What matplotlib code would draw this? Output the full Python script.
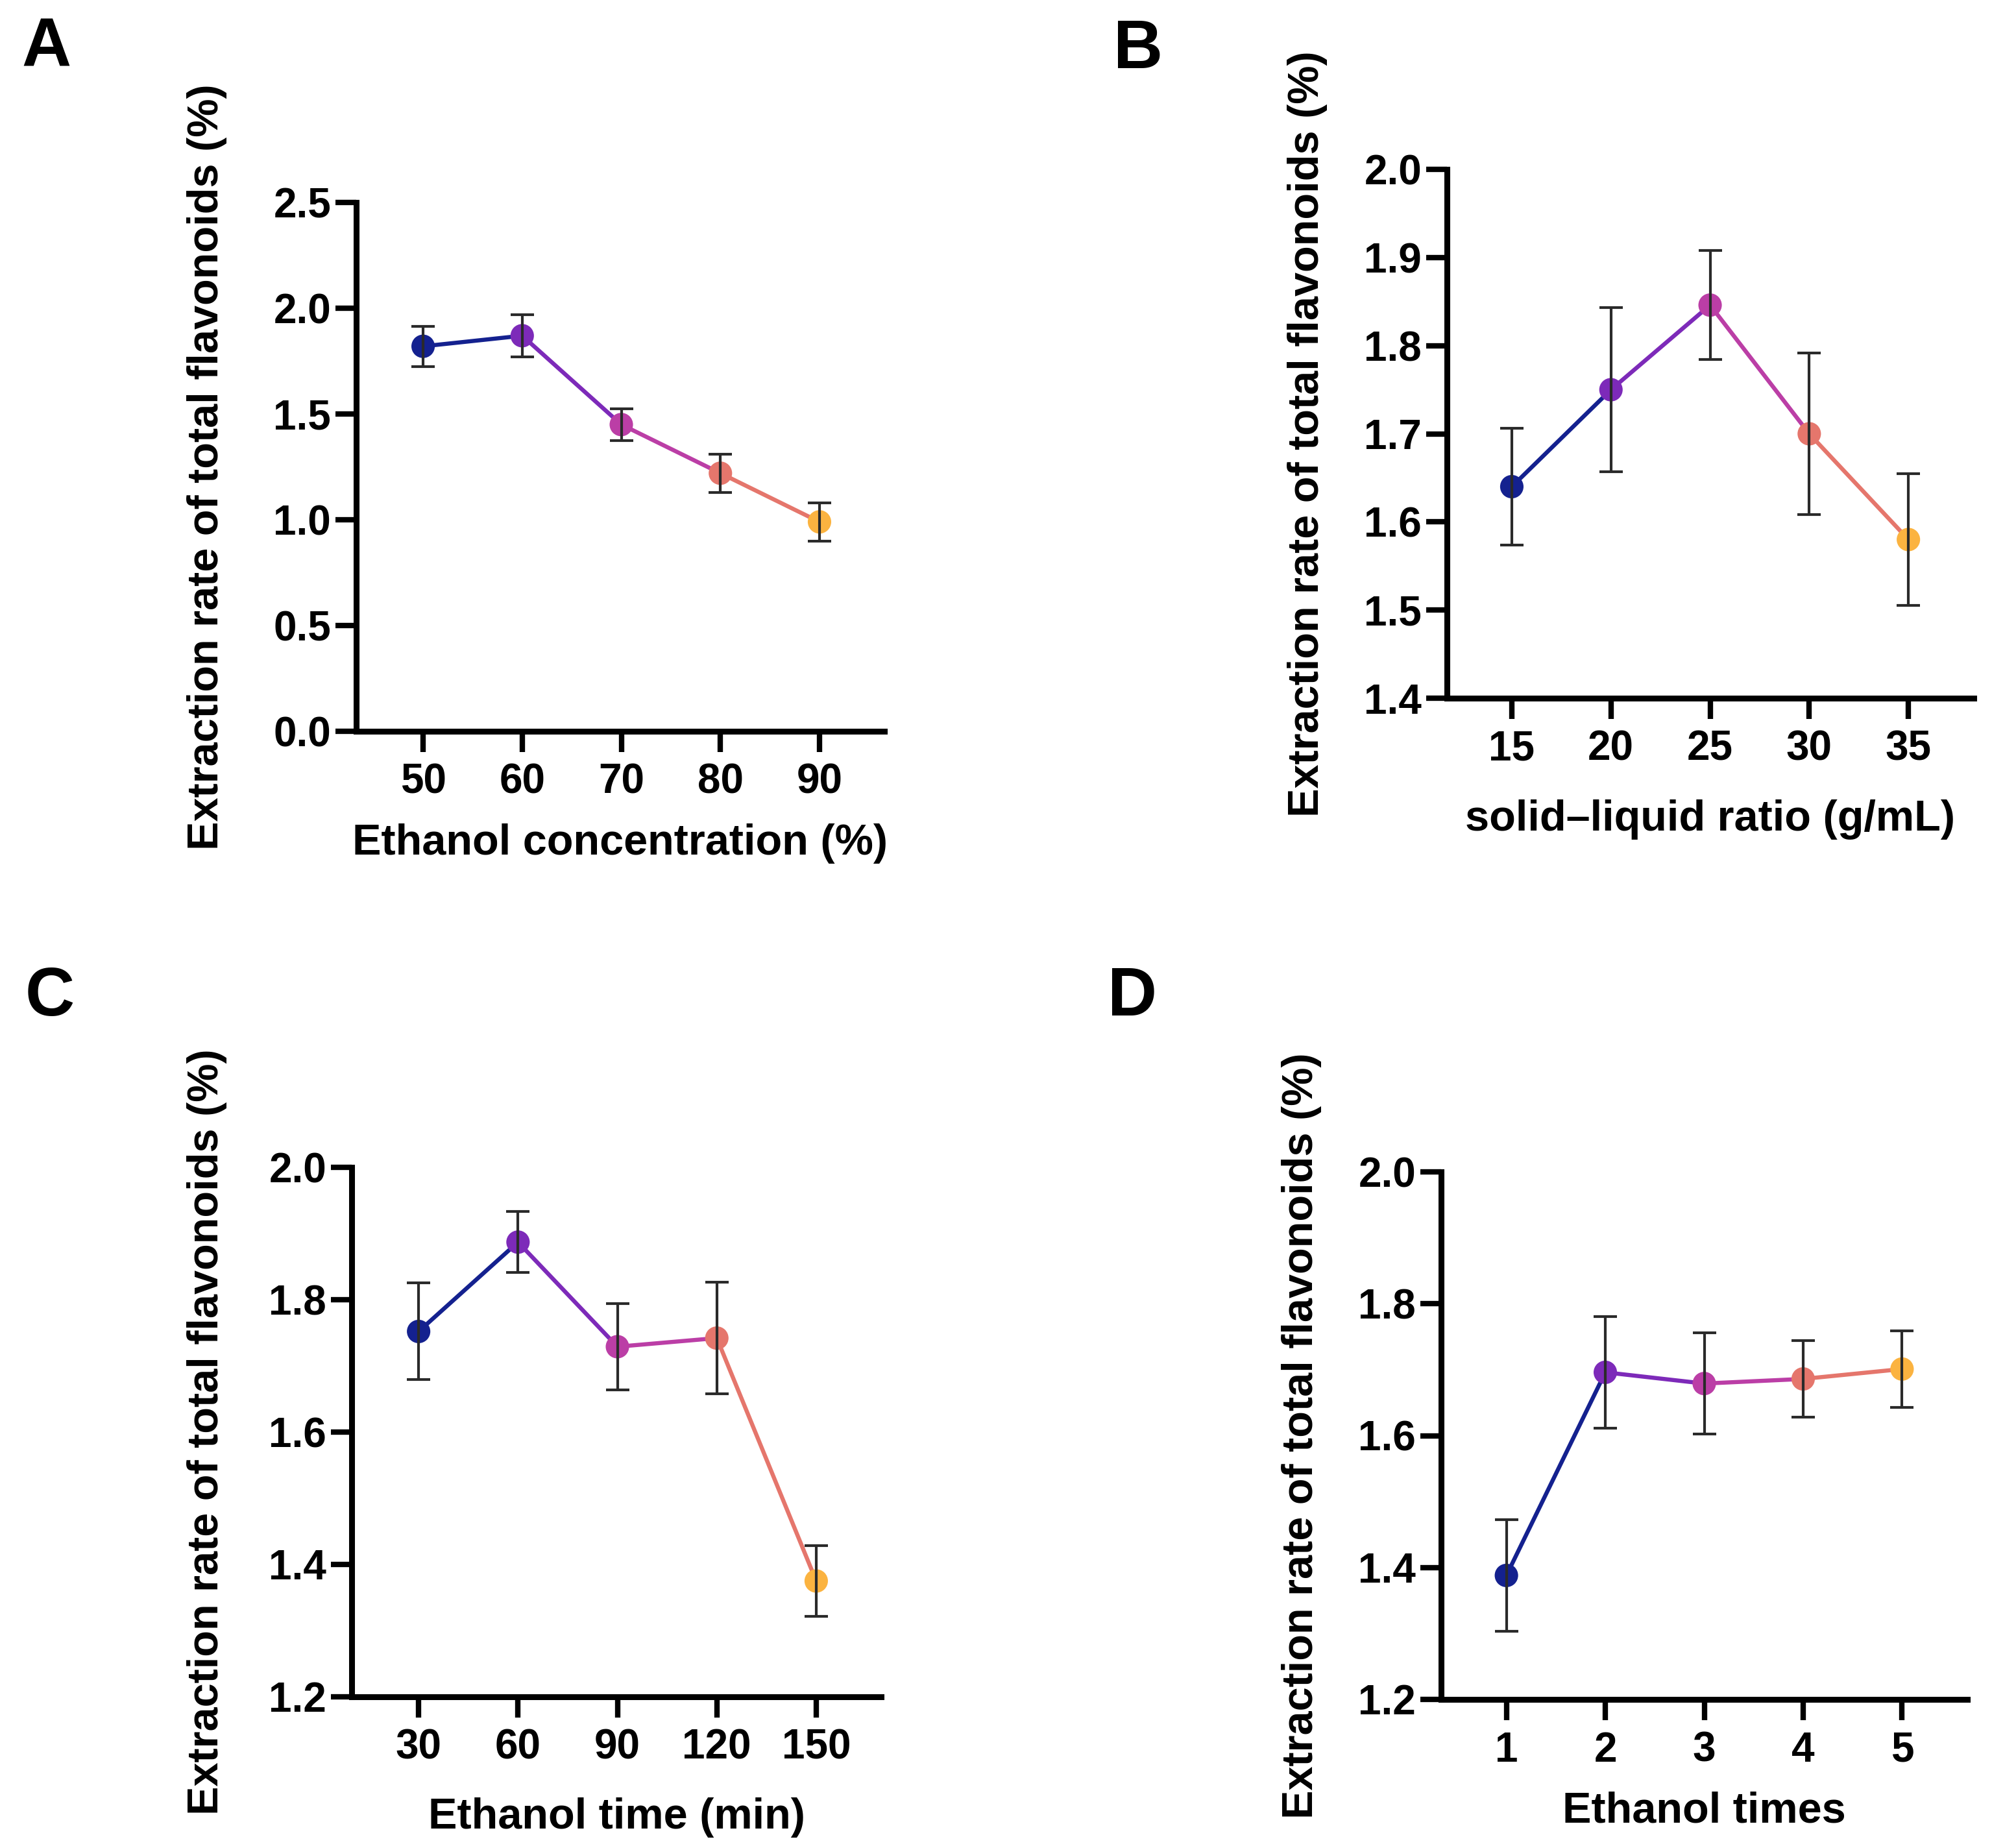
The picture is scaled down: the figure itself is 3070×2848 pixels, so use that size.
import numpy as np
import matplotlib
matplotlib.use("Agg")
import matplotlib.pyplot as plt

plt.rcParams['font.family'] = ['Liberation Sans', 'DejaVu Sans']
plt.rcParams['font.weight'] = 'bold'

# colours for the five levels of each factor
colors = ['#14218f', '#7d2ab9', '#bb3ea6', '#e5766c', '#fbb340']

# A: ethanol concentration
conc = [50, 60, 70, 80, 90]
conc_mean = [1.82, 1.87, 1.45, 1.22, 0.99]
conc_err = [0.095, 0.10, 0.075, 0.09, 0.09]

# B: solid-liquid ratio
ratio = [15, 20, 25, 30, 35]
ratio_mean = [1.64, 1.75, 1.846, 1.70, 1.58]
ratio_err = [0.066, 0.093, 0.062, 0.092, 0.075]

# C: extraction time
time_min = [30, 60, 90, 120, 150]
time_mean = [1.752, 1.887, 1.729, 1.742, 1.375]
time_err = [0.073, 0.046, 0.065, 0.084, 0.053]

# D: number of extractions
times = [1, 2, 3, 4, 5]
times_mean = [1.388, 1.696, 1.679, 1.686, 1.701]
times_err = [0.085, 0.085, 0.077, 0.058, 0.058]

ylabel = 'Extraction rate of total flavonoids (%)'

W, H = 3070, 2848
fig = plt.figure(figsize=(W / 100, H / 100), dpi=100)


def rect(l, r, t, b):
    return [l / W, 1 - b / H, (r - l) / W, (b - t) / H]


panels = [
    dict(letter='A', box=(549, 1363, 312, 1127), lpos=(33, 103),
         x=conc, y=conc_mean, e=conc_err, xlim=(43.25, 96.55),
         yt=np.arange(0, 2.51, 0.5), xlabel='Ethanol concentration (%)',
         ylc=-0.283, xlc=-0.212),
    dict(letter='B', box=(2230, 3042, 261, 1076), lpos=(1716, 105),
         x=ratio, y=ratio_mean, e=ratio_err, xlim=(11.73, 38.3),
         yt=np.arange(1.4, 2.01, 0.1), xlabel='solid\u2013liquid ratio (g/mL)',
         ylc=-0.265, xlc=-0.23),
    dict(letter='C', box=(542, 1358, 1799, 2615), lpos=(39, 1565),
         x=time_min, y=time_mean, e=time_err, xlim=(9.8, 169.6),
         yt=np.arange(1.2, 2.01, 0.2), xlabel='Ethanol time (min)',
         ylc=-0.273, xlc=-0.228),
    dict(letter='D', box=(2221, 3032, 1806, 2619), lpos=(1707, 1565),
         x=times, y=times_mean, e=times_err, xlim=(0.34, 5.66),
         yt=np.arange(1.2, 2.01, 0.2), xlabel='Ethanol times',
         ylc=-0.265, xlc=-0.212),
]

for p in panels:
    ax = fig.add_axes(rect(*p['box']))
    x, y, e = p['x'], p['y'], p['e']
    for i in range(len(x) - 1):
        ax.plot(x[i:i + 2], y[i:i + 2], color=colors[i], lw=4.6,
                solid_capstyle='round', zorder=2)
    ax.scatter(x, y, s=26 ** 2, c=colors, zorder=3, linewidths=0)
    ax.errorbar(x, y, yerr=e, fmt='none', ecolor='#2a2a2a', elinewidth=3.0,
                capsize=13, capthick=3.0, zorder=4)

    ax.set_xlim(*p['xlim'])
    ax.set_ylim(p['yt'][0], p['yt'][-1])
    ax.set_xticks(x)
    ax.set_yticks(p['yt'])
    ax.set_yticklabels(['%.1f' % v for v in p['yt']])
    for s in ['top', 'right']:
        ax.spines[s].set_visible(False)
    for s in ['left', 'bottom']:
        ax.spines[s].set_linewidth(6.5)
        ax.spines[s].set_capstyle('projecting')
    ax.tick_params(axis='both', width=6, length=23, labelsize=46)
    ax.tick_params(axis='y', pad=5)
    ax.tick_params(axis='x', pad=12)
    for lab in ax.get_xticklabels() + ax.get_yticklabels():
        lab.set_fontweight('bold')

    ax.set_ylabel(ylabel, fontsize=48, fontweight='bold')
    ax.yaxis.set_label_coords(p['ylc'], 0.5)
    ax.yaxis.label.set_va('center')
    ax.set_xlabel(p['xlabel'], fontsize=48, fontweight='bold')
    ax.xaxis.set_label_coords(0.5, p['xlc'])
    ax.xaxis.label.set_va('center')

    lx, ly = p['lpos']
    fig.text(lx / W, 1 - ly / H, p['letter'], fontsize=76, fontweight='bold',
             ha='left', va='baseline')

fig.savefig('out.png', dpi=100, facecolor='white')
